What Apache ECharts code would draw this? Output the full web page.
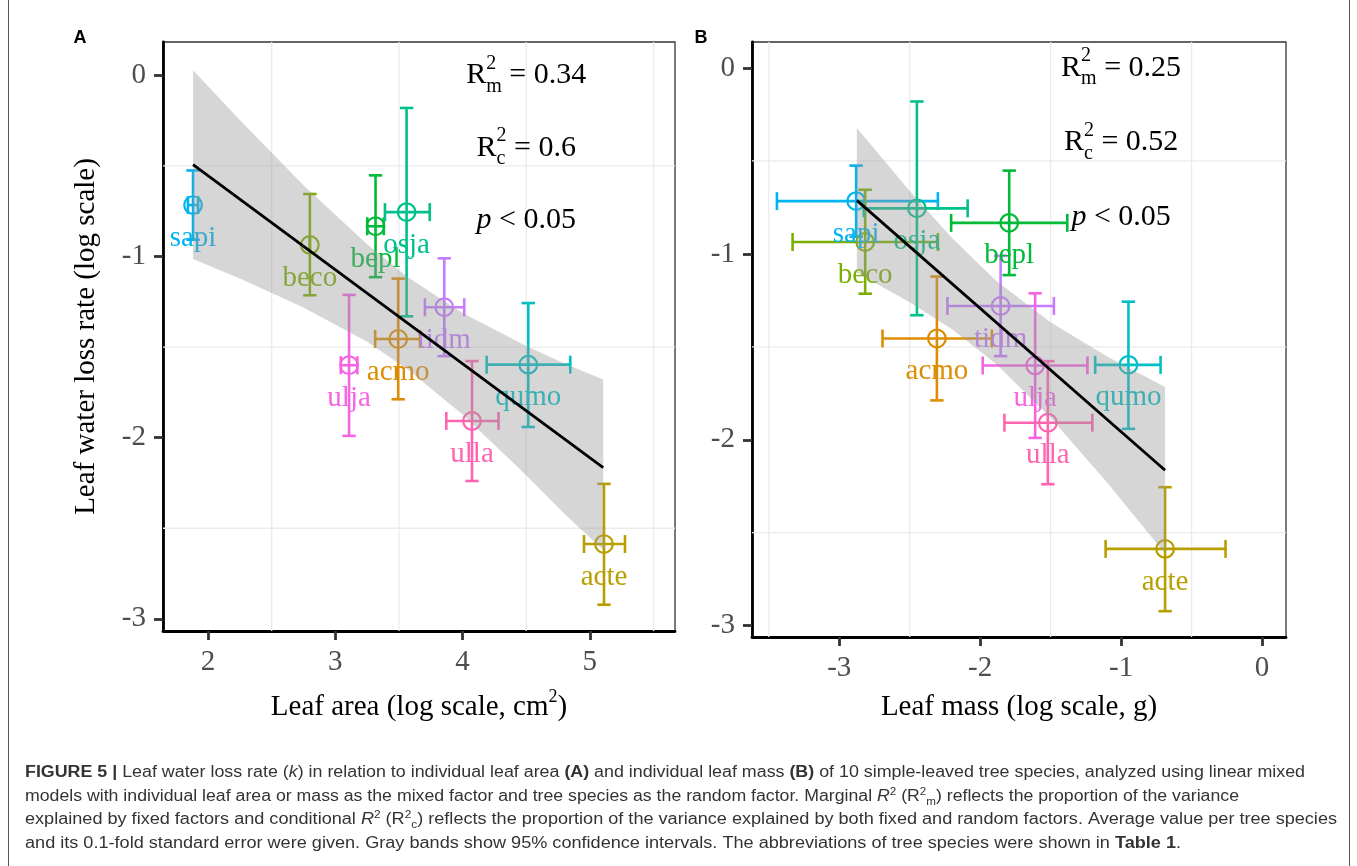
<!DOCTYPE html>
<html>
<head>
<meta charset="utf-8">
<script src="https://cdn.jsdelivr.net/npm/echarts@6/dist/echarts.min.js"></script>
<style>
  html, body { margin: 0; padding: 0; background: #fff; }
  #chart { width: 1357px; height: 866px; }
</style>
</head>
<body>
<div id="chart"></div>
<script>
// ---- species (abbreviations) and their colours ----
const species = ['sapi', 'beco', 'bepl', 'osja', 'tidm', 'acmo', 'ulja', 'ulla', 'qumo', 'acte'];
const speciesColors = ['#00B4F0', '#7CAE00', '#00BA38', '#00C08B', '#C77CFF', '#DE8C00', '#F564E3', '#FF64B0', '#00BFC4', '#B79F00'];

// ---- leaf water loss rate k (log scale): mean and error limits ----
const lossRate = [-0.716, -0.936, -0.833, -0.755, -1.280, -1.455, -1.600, -1.908, -1.597, -2.587];
const lossLow  = [-0.907, -1.214, -1.114, -1.330, -1.550, -1.788, -1.990, -2.239, -1.941, -2.922];
const lossHigh = [-0.525, -0.655, -0.552, -0.180, -1.010, -1.122, -1.212, -1.577, -1.257, -2.255];

// ---- leaf area (log scale, cm2): mean and error limits ----
const leafArea = [1.882, 2.800, 3.316, 3.560, 3.856, 3.494, 3.108, 4.074, 4.516, 5.111];
const areaLow  = [1.842, 2.800, 3.251, 3.390, 3.704, 3.313, 3.043, 3.872, 4.189, 4.954];
const areaHigh = [1.922, 2.800, 3.381, 3.742, 4.013, 3.665, 3.173, 4.282, 4.846, 5.276];

// ---- leaf mass (log scale, g): mean and error limits ----
const leafMass = [-2.880, -2.816, -1.794, -2.449, -1.855, -2.307, -1.610, -1.520, -0.948, -0.688];
const massLow  = [-3.442, -3.331, -2.206, -2.826, -2.232, -2.693, -1.982, -1.828, -1.184, -1.110];
const massHigh = [-2.300, -2.300, -1.382, -2.089, -1.477, -1.917, -1.239, -1.204, -0.720, -0.259];

// ---- fitted lines (fixed effect) ----
const fitAreaX = [1.882, 5.105];
const fitAreaY = [-0.493, -2.165];
const fitMassX = [-2.875, -0.688];
const fitMassY = [-0.712, -2.164];

// ---- 95% confidence bands ----
const bandAreaX     = [1.882, 2.25, 2.75, 3.25, 3.57, 4.0, 4.5, 4.8, 5.105];
const bandAreaUpper = [0.028, -0.246, -0.606, -0.933, -1.114, -1.312, -1.494, -1.590, -1.679];
const bandAreaLower = [-1.014, -1.121, -1.281, -1.471, -1.624, -1.872, -2.208, -2.420, -2.620];
const bandMassX     = [-2.875, -2.5, -2.2, -1.887, -1.5, -1.1, -0.688];
const bandMassUpper = [-0.322, -0.662, -0.914, -1.144, -1.368, -1.552, -1.716];
const bandMassLower = [-1.102, -1.260, -1.406, -1.592, -1.882, -2.230, -2.612];

// ---- model statistics: marginal R2, conditional R2, p ----
const statsArea = [0.34, 0.6, 0.05];
const statsMass = [0.25, 0.52, 0.05];

// ---- axis ticks and light grid lines ----
const areaTicks = [2, 3, 4, 5];
const massTicks = [-3, -2, -1, 0];
const rateTicks = [-3, -2, -1, 0];
const areaGrid = [2.5, 3.5, 4.5, 5.5];
const massGrid = [-3.5, -2.5, -1.5, -0.5];
const rateGrid = [-0.5, -1.5, -2.5];

const SERIF = '"Liberation Serif", "Times New Roman", serif';
const SANS = '"Liberation Sans", Arial, sans-serif';

const measureCtx = document.createElement('canvas').getContext('2d');
function textWidth(str, font) {
  measureCtx.font = font;
  return measureCtx.measureText(str).width;
}

function txt(text, x, y, font, fill, align) {
  return {
    type: 'text', x: x, y: y,
    style: {
      text: text, font: font, fill: fill,
      align: align || 'left', verticalAlign: 'middle',
      textAlign: align || 'left', textVerticalAlign: 'middle'
    }
  };
}

// light grid lines at the half units
function renderGridLine(params, api) {
  const cs = params.coordSys;
  const v = api.value(0);
  const horizontal = api.value(1) === 1;
  const style = { stroke: '#EBEBEB', lineWidth: 1.3 };
  if (horizontal) {
    const y = api.coord([0, v])[1];
    return { type: 'line', shape: { x1: cs.x, y1: y, x2: cs.x + cs.width, y2: y }, style: style };
  }
  const x = api.coord([v, 0])[0];
  return { type: 'line', shape: { x1: x, y1: cs.y, x2: x, y2: cs.y + cs.height }, style: style };
}

// species means with vertical and horizontal error bars and an open circle
function renderBars(params, api) {
  const color = speciesColors[api.value(6)];
  const c = api.coord([api.value(0), api.value(1)]);
  const xl = api.coord([api.value(2), api.value(1)])[0];
  const xh = api.coord([api.value(3), api.value(1)])[0];
  const yl = api.coord([api.value(0), api.value(4)])[1];
  const yh = api.coord([api.value(0), api.value(5)])[1];
  const seg = (x1, y1, x2, y2) => ({
    type: 'line', shape: { x1: x1, y1: y1, x2: x2, y2: y2 },
    style: { stroke: color, lineWidth: 2.6 }
  });
  const capV = 6.7, capH = 9;
  return {
    type: 'group',
    children: [
      seg(c[0], yh, c[0], yl),
      seg(c[0] - capV, yh, c[0] + capV, yh),
      seg(c[0] - capV, yl, c[0] + capV, yl),
      seg(xl, c[1], xh, c[1]),
      seg(xl, c[1] - capH, xl, c[1] + capH),
      seg(xh, c[1] - capH, xh, c[1] + capH),
      { type: 'circle', shape: { cx: c[0], cy: c[1], r: 8.8 },
        style: { stroke: color, lineWidth: 2.2, fill: 'rgba(0,0,0,0)' } }
    ]
  };
}

// species abbreviation under each mean
function renderSpeciesLabel(params, api) {
  const i = api.value(2);
  const c = api.coord([api.value(0), api.value(1)]);
  return txt(species[i], c[0], c[1] + 33, '29px ' + SERIF, speciesColors[i], 'center');
}

// gray confidence band as one polygon
function bandRenderer(bx, bu, bl) {
  return function (params, api) {
    const pts = [];
    for (let i = 0; i < bx.length; i++) pts.push(api.coord([bx[i], bu[i]]));
    for (let i = bx.length - 1; i >= 0; i--) pts.push(api.coord([bx[i], bl[i]]));
    return { type: 'polygon', shape: { points: pts }, style: { fill: 'rgba(153,153,153,0.4)' } };
  };
}

// R2m / R2c / p annotations with stacked super- and subscripts
function renderStat(params, api) {
  const c = api.coord([api.value(0), api.value(1)]);
  const kind = api.value(2);
  const valText = String(api.value(3));
  const fBig = '30px ' + SERIF, fSmall = '20px ' + SERIF, fIt = 'italic 30px ' + SERIF;
  if (kind === 2) {
    const rest = ' < ' + valText;
    const w1 = textWidth('p', fIt), w2 = textWidth(rest, fBig);
    const x0 = c[0] - (w1 + w2) / 2;
    return { type: 'group', children: [txt('p', x0, c[1], fIt, '#000'), txt(rest, x0 + w1, c[1], fBig, '#000')] };
  }
  const sub = kind === 0 ? 'm' : 'c';
  const rest = ' = ' + valText;
  const wR = textWidth('R', fBig);
  const wS = Math.max(textWidth('2', fSmall), textWidth(sub, fSmall));
  const wRest = textWidth(rest, fBig);
  const x0 = c[0] - (wR + wS + wRest) / 2;
  return {
    type: 'group',
    children: [
      txt('R', x0, c[1], fBig, '#000'),
      txt('2', x0 + wR, c[1] - 12, fSmall, '#000'),
      txt(sub, x0 + wR, c[1] + 11, fSmall, '#000'),
      txt(rest, x0 + wR + wS, c[1], fBig, '#000')
    ]
  };
}

function panelSeries(idx, xs, xLow, xHigh, bandX, bandU, bandL, fitX, fitY, stats, statX, vGrid) {
  const gridRows = vGrid.map(v => [v, 0]).concat(rateGrid.map(v => [v, 1]));
  const barRows = species.map((s, i) => [xs[i], lossRate[i], xLow[i], xHigh[i], lossLow[i], lossHigh[i], i]);
  const labelRows = species.map((s, i) => [xs[i], lossRate[i], i]);
  const statRows = stats.map((v, k) => [statX, -0.4 * k, k, v]);
  const common = { xAxisIndex: idx, yAxisIndex: idx, coordinateSystem: 'cartesian2d', silent: true };
  return [
    Object.assign({ type: 'custom', z: 1, renderItem: renderGridLine, data: gridRows }, common),
    Object.assign({ type: 'custom', z: 2, renderItem: renderBars, data: barRows,
      encode: { x: [0, 2, 3], y: [1, 4, 5] } }, common),
    Object.assign({ type: 'custom', z: 3, renderItem: renderSpeciesLabel, data: labelRows }, common),
    Object.assign({ type: 'custom', z: 4, renderItem: bandRenderer(bandX, bandU, bandL),
      data: [[bandX[0], bandU[0]]] }, common),
    Object.assign({ type: 'line', z: 5, symbol: 'none',
      data: fitX.map((x, i) => [x, fitY[i]]),
      lineStyle: { color: '#000', width: 2.8 } }, common),
    Object.assign({ type: 'custom', z: 6, renderItem: renderStat, data: statRows }, common)
  ];
}

function valueAxis(gridIndex, min, max, ticks, extra) {
  return Object.assign({
    gridIndex: gridIndex, type: 'value', min: min, max: max,
    axisLine: { show: true, onZero: false, lineStyle: { color: '#000', width: 2.8 } },
    axisTick: { show: true, customValues: ticks, length: 9, lineStyle: { color: '#333', width: 2.8 } },
    axisLabel: { customValues: ticks, color: '#4D4D4D', fontFamily: SERIF, fontSize: 29, margin: 17 },
    splitLine: { show: false }
  }, extra || {});
}

const titleStyle = { fontFamily: SERIF, fontSize: 29, color: '#000' };
const areaTitleStyle = {
  fontFamily: SERIF, fontSize: 29, color: '#000', lineHeight: 38,
  rich: { sup: { fontFamily: SERIF, fontSize: 18, color: '#000', verticalAlign: 'top' } }
};

// ---- caption ----
const captionLines = [
  [['b', 'FIGURE 5 | '], ['n', 'Leaf water loss rate ('], ['i', 'k'], ['n', ') in relation to individual leaf area '],
   ['b', '(A)'], ['n', ' and individual leaf mass '], ['b', '(B)'],
   ['n', ' of 10 simple-leaved tree species, analyzed using linear mixed']],
  [['n', 'models with individual leaf area or mass as the mixed factor and tree species as the random factor. Marginal '],
   ['i', 'R'], ['sup', '2'], ['n', ' (R'], ['sup', '2'], ['sub', 'm'], ['n', ') reflects the proportion of the variance']],
  [['n', 'explained by fixed factors and conditional '], ['i', 'R'], ['sup', '2'], ['n', ' (R'], ['sup', '2'], ['sub', 'c'],
   ['n', ') reflects the proportion of the variance explained by both fixed and random factors. Average value per tree species']],
  [['n', 'and its 0.1-fold standard error were given. Gray bands show 95% confidence intervals. The abbreviations of tree species were shown in '],
   ['b', 'Table 1'], ['n', '.']]
];
const captionFonts = {
  n: '16px ' + SANS, b: 'bold 16px ' + SANS, i: 'italic 16px ' + SANS,
  sup: '10.5px ' + SANS, sub: '10.5px ' + SANS
};
const captionRich = {
  n: { fontFamily: SANS, fontSize: 16, color: '#333', lineHeight: 21 },
  b: { fontFamily: SANS, fontSize: 16, fontWeight: 'bold', color: '#111', lineHeight: 21 },
  i: { fontFamily: SANS, fontSize: 16, fontStyle: 'italic', color: '#333', lineHeight: 21 },
  sup: { fontFamily: SANS, fontSize: 10.5, color: '#333', lineHeight: 21, verticalAlign: 'top' },
  sub: { fontFamily: SANS, fontSize: 10.5, color: '#333', lineHeight: 21, verticalAlign: 'bottom' }
};
const captionLeft = 25;
const captionRight = [1305, 1239, 1337, 1181];
const captionMid = [773, 797, 820, 844];
const captionGraphics = captionLines.map((frags, k) => {
  const w = frags.reduce((s, f) => s + textWidth(f[1], captionFonts[f[0]]), 0);
  return {
    type: 'text', x: captionLeft, y: captionMid[k], scaleX: (captionRight[k] - captionLeft) / w,
    style: {
      text: frags.map(f => '{' + f[0] + '|' + f[1] + '}').join(''),
      rich: captionRich, font: captionFonts.n, fill: '#333',
      verticalAlign: 'middle', textVerticalAlign: 'middle'
    }
  };
});

const option = {
  animation: false,
  backgroundColor: '#fff',
  textStyle: { fontFamily: SERIF },
  grid: [
    { left: 163, top: 42, width: 512, height: 589, show: true, borderColor: '#333', borderWidth: 1.3, backgroundColor: '#fff' },
    { left: 752, top: 42, width: 534, height: 595, show: true, borderColor: '#333', borderWidth: 1.3, backgroundColor: '#fff' }
  ],
  xAxis: [
    valueAxis(0, 1.646, 5.669, areaTicks, {
      name: 'Leaf area (log scale, cm{sup|2})', nameLocation: 'middle', nameGap: 57, nameTextStyle: areaTitleStyle
    }),
    valueAxis(1, -3.619, 0.17, massTicks, {
      name: 'Leaf mass (log scale, g)', nameLocation: 'middle', nameGap: 56, nameTextStyle: titleStyle
    })
  ],
  yAxis: [
    valueAxis(0, -3.067, 0.184, rateTicks, {
      name: 'Leaf water loss rate (log scale)', nameLocation: 'middle', nameGap: 62, nameTextStyle: titleStyle
    }),
    valueAxis(1, -3.061, 0.14, rateTicks)
  ],
  series: [].concat(
    panelSeries(0, leafArea, areaLow, areaHigh, bandAreaX, bandAreaUpper, bandAreaLower, fitAreaX, fitAreaY, statsArea, 4.5, areaGrid),
    panelSeries(1, leafMass, massLow, massHigh, bandMassX, bandMassUpper, bandMassLower, fitMassX, fitMassY, statsMass, -1.0, massGrid)
  ),
  graphic: [
    { type: 'rect', shape: { x: 8.5, y: -10, width: 1341, height: 890 },
      style: { fill: 'rgba(0,0,0,0)', stroke: '#555', lineWidth: 1 }, silent: true },
    { type: 'text', x: 80, y: 38, style: { text: 'A', font: 'bold 18px ' + SANS, fill: '#000',
      align: 'center', verticalAlign: 'middle', textAlign: 'center', textVerticalAlign: 'middle' } },
    { type: 'text', x: 701, y: 38, style: { text: 'B', font: 'bold 18px ' + SANS, fill: '#000',
      align: 'center', verticalAlign: 'middle', textAlign: 'center', textVerticalAlign: 'middle' } }
  ].concat(captionGraphics)
};

const chart = echarts.init(document.getElementById('chart'), null, { renderer: 'canvas', width: 1357, height: 866 });
chart.setOption(option);
</script>
</body>
</html>
